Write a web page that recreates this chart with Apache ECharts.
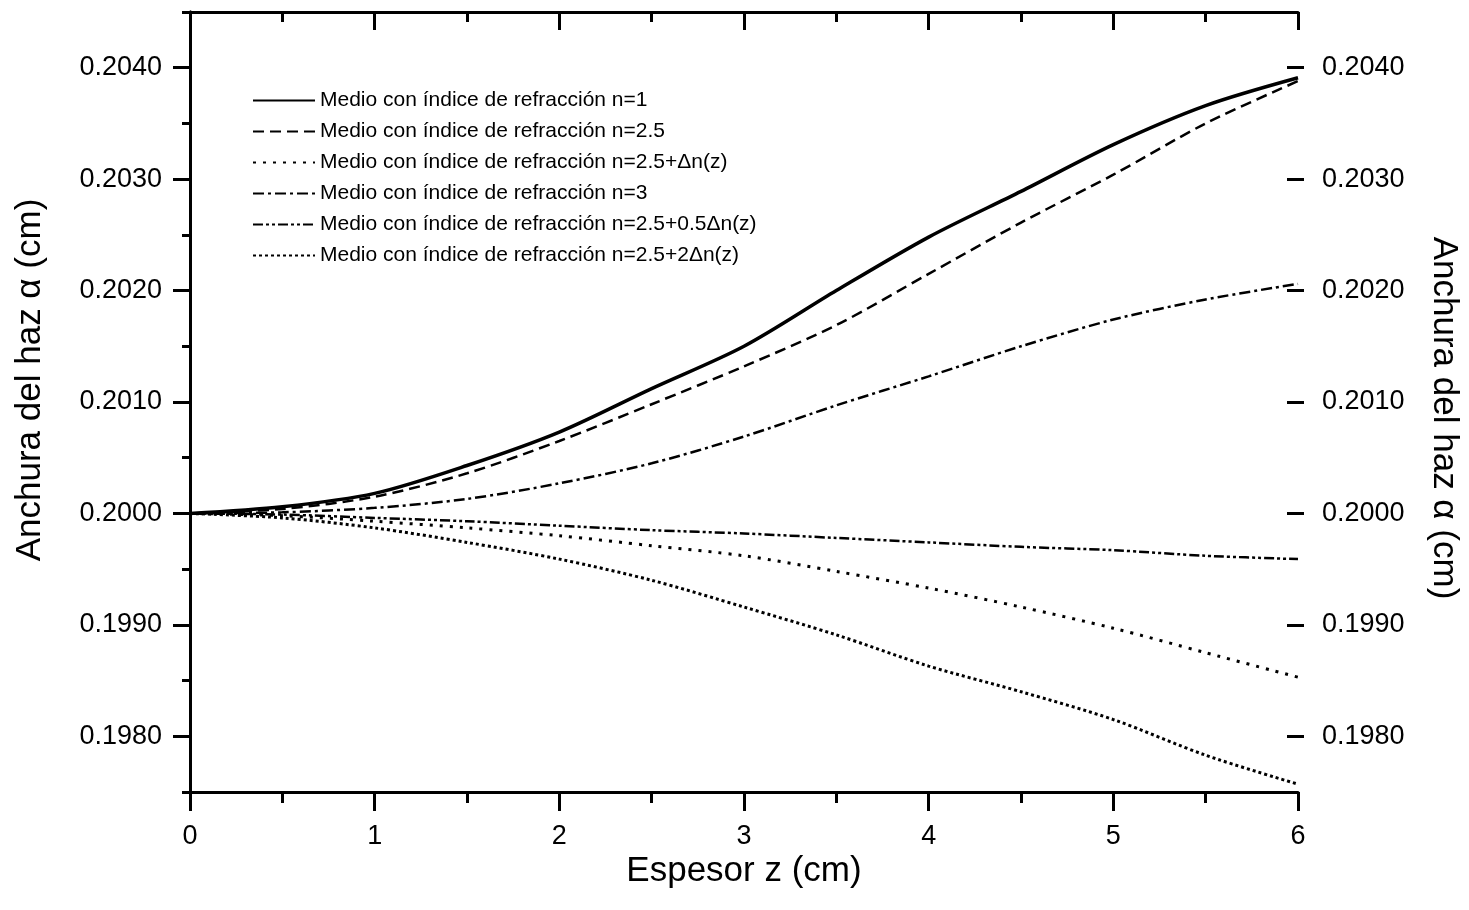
<!DOCTYPE html>
<html>
<head>
<meta charset="utf-8">
<script src="https://cdn.jsdelivr.net/npm/echarts@6/dist/echarts.min.js"></script>
<style>
html, body { margin: 0; padding: 0; background: #fff; }
#chart { width: 1469px; height: 910px; }
</style>
</head>
<body>
<div id="chart"></div>
<script>
// espesor z (cm)
var zList = [0, 0.5, 1, 1.5, 2, 2.5, 3, 3.5, 4, 4.5, 5, 5.5, 6];
// anchura del haz para cada medio
var n1   = [0.2000, 0.20006, 0.20018, 0.20043, 0.20073, 0.20112, 0.20150, 0.20200, 0.20248, 0.20289, 0.20331, 0.20366, 0.20391];
var n25  = [0.2000, 0.20004, 0.20015, 0.20036, 0.20065, 0.20098, 0.20132, 0.20169, 0.20215, 0.20261, 0.20304, 0.20350, 0.20388];
var n25d = [0.2000, 0.19998, 0.19993, 0.19987, 0.19980, 0.19971, 0.19962, 0.19948, 0.19933, 0.19916, 0.19897, 0.19875, 0.19853];
var n3   = [0.2000, 0.20001, 0.20005, 0.20013, 0.20027, 0.20045, 0.20069, 0.20097, 0.20123, 0.20150, 0.20174, 0.20192, 0.20206];
var n05d = [0.2000, 0.19999, 0.19996, 0.19993, 0.19989, 0.19985, 0.19982, 0.19978, 0.19974, 0.19970, 0.19967, 0.19962, 0.19959];
var n2d  = [0.2000, 0.19996, 0.19987, 0.19974, 0.19959, 0.19940, 0.19916, 0.19891, 0.19863, 0.19840, 0.19815, 0.19783, 0.19757];

var names = [
    'Medio con índice de refracción n=1',
    'Medio con índice de refracción n=2.5',
    'Medio con índice de refracción n=2.5+Δn(z)',
    'Medio con índice de refracción n=3',
    'Medio con índice de refracción n=2.5+0.5Δn(z)',
    'Medio con índice de refracción n=2.5+2Δn(z)'
];
var values = [n1, n25, n25d, n3, n05d, n2d];
var dashes = ['solid', [11, 6], [3, 7], [11, 4, 3, 4], [10, 3, 3, 3, 3, 3], [3, 3]];
var widths = [3.5, 2.5, 3, 2.5, 2.5, 3];

var yMin = 0.1975, yMax = 0.2045;
var labMin = 0.198, labMax = 0.204;

// grid 1 lleva las curvas, grid 2 solo las marcas grandes y etiquetas
var gTop = 12, gBottom = 118;
var h = 910 - gTop - gBottom;
var pad = h * (labMin - yMin) / (yMax - yMin);

var font = 'Liberation Sans, Arial, sans-serif';

function pairs(arr){
    return zList.map(function(z, i){ return [z, arr[i]]; });
}

var series = names.map(function(n, i){
    return {
        name: n,
        type: 'line',
        xAxisIndex: 0,
        yAxisIndex: 0,
        symbol: 'none',
        smooth: 0.3,
        lineStyle: { color: '#000', width: widths[i], type: dashes[i] },
        itemStyle: { color: '#000' },
        data: pairs(values[i])
    };
});

var axisLine = { show: true, lineStyle: { color: '#000', width: 3 } };

var option = {
    animation: false,
    backgroundColor: '#fff',
    textStyle: { fontFamily: font, color: '#000' },
    grid: [
        { left: 190, right: 165, top: gTop, bottom: gBottom },
        { left: 190, right: 165, top: gTop + pad, bottom: gBottom + pad }
    ],
    legend: {
        orient: 'vertical',
        left: 252,
        top: 90,
        padding: 0,
        itemWidth: 62,
        itemHeight: 14,
        itemGap: 10,
        itemStyle: { color: 'transparent', borderWidth: 0, opacity: 0 },
        textStyle: { fontSize: 21, color: '#000', fontFamily: font },
        data: names
    },
    xAxis: [
        {
            type: 'value', gridIndex: 0, position: 'bottom',
            min: 0, max: 6, interval: 1,
            axisLine: axisLine,
            axisTick: { inside: false, length: 19, lineStyle: { width: 3, color: '#000' } },
            minorTick: { show: true, splitNumber: 2, length: 11, lineStyle: { width: 3, color: '#000' } },
            axisLabel: { fontSize: 27, margin: 31, color: '#000', fontFamily: font },
            splitLine: { show: false },
            name: 'Espesor z (cm)', nameLocation: 'middle', nameGap: 62, nameMoveOverlap: false,
            nameTextStyle: { fontSize: 35, color: '#000', fontFamily: font }
        },
        {
            type: 'value', gridIndex: 0, position: 'top',
            min: 0, max: 6, interval: 1,
            axisLine: axisLine,
            axisTick: { inside: true, length: 18, lineStyle: { width: 3, color: '#000' } },
            minorTick: { show: true, splitNumber: 2, length: 10, lineStyle: { width: 3, color: '#000' } },
            axisLabel: { show: false },
            splitLine: { show: false }
        },
        { type: 'value', gridIndex: 1, min: 0, max: 6, show: false }
    ],
    yAxis: [
        {
            type: 'value', gridIndex: 0, position: 'left',
            min: yMin, max: yMax, interval: 0.0005,
            axisLine: axisLine,
            axisTick: { inside: false, length: 8, lineStyle: { width: 3, color: '#000' } },
            axisLabel: { show: false },
            splitLine: { show: false },
            name: 'Anchura del haz α (cm)', nameLocation: 'middle', nameGap: 142, nameRotate: 90,
            nameTextStyle: { fontSize: 35, color: '#000', fontFamily: font, padding: [0, 0, 0, 44] }
        },
        {
            type: 'value', gridIndex: 0, position: 'right',
            min: yMin, max: yMax, interval: 0.0005,
            axisLine: axisLine,
            axisTick: { inside: true, length: 8, lineStyle: { width: 3, color: '#000' } },
            axisLabel: { show: false },
            splitLine: { show: false },
            name: 'Anchura del haz α (cm)', nameLocation: 'middle', nameGap: 128, nameRotate: -90,
            nameTextStyle: { fontSize: 35, color: '#000', fontFamily: font, padding: [0, 0, 0, 32] }
        },
        {
            type: 'value', gridIndex: 1, position: 'left',
            min: labMin, max: labMax, interval: 0.001,
            axisLine: { show: false },
            axisTick: { show: true, inside: false, length: 17, lineStyle: { width: 3, color: '#000' } },
            axisLabel: { fontSize: 27, margin: 28, color: '#000', fontFamily: font,
                formatter: function(v){ return v.toFixed(4); } },
            splitLine: { show: false }
        },
        {
            type: 'value', gridIndex: 1, position: 'right',
            min: labMin, max: labMax, interval: 0.001,
            axisLine: { show: false },
            axisTick: { show: true, inside: true, length: 17, lineStyle: { width: 3, color: '#000' } },
            axisLabel: { fontSize: 27, margin: 18, color: '#000', fontFamily: font,
                formatter: function(v){ return v.toFixed(4); } },
            splitLine: { show: false }
        }
    ],
    series: series
};

var chart = echarts.init(document.getElementById('chart'));
chart.setOption(option);
</script>
</body>
</html>
